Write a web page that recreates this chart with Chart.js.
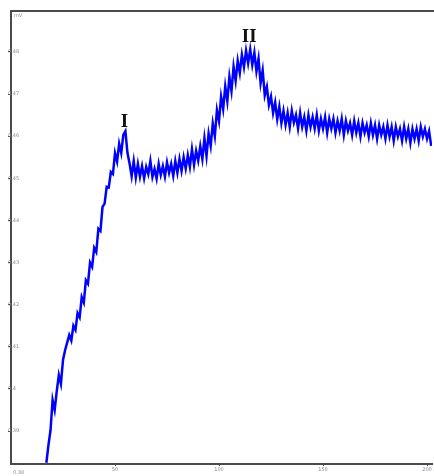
<!DOCTYPE html>
<html>
<head>
<meta charset="utf-8">
<script src="https://cdn.jsdelivr.net/npm/chart.js@4"></script>
<style>
  html, body { margin: 0; padding: 0; background: #fff; }
  #wrap { width: 434px; height: 476px; position: relative; }
</style>
</head>
<body>
<div id="wrap"><canvas id="cvChart"></canvas></div>
<script>
// x positions (arbitrary units) and potential in mV
var xValues = [];
for (var i = 17; i <= 202; i++) xValues.push(i);

var mvValues = [
    // 17 - 60 : steep rise to peak I
    0.3825, 0.3867, 0.3902, 0.3974, 0.3950, 0.3995, 0.4033, 0.4012, 0.4069, 0.4092,
    0.4110, 0.4128, 0.4115, 0.4150, 0.4140, 0.4180, 0.4170, 0.4218, 0.4205, 0.4258,
    0.4250, 0.4300, 0.4290, 0.4335, 0.4325, 0.4380, 0.4375, 0.4432, 0.4440, 0.4480,
    0.4478, 0.4515, 0.4510, 0.4560, 0.4540, 0.4582, 0.4560, 0.4603, 0.4612, 0.4560,
    0.4535, 0.4505, 0.4541, 0.4502,
    // 61 - 92 : plateau
    0.4534, 0.4504, 0.4529, 0.4500, 0.4527, 0.4510, 0.4541, 0.4503, 0.4522, 0.4499,
    0.4534, 0.4508, 0.4529, 0.4504, 0.4538, 0.4513, 0.4534, 0.4506, 0.4541, 0.4513,
    0.4546, 0.4518, 0.4550, 0.4523, 0.4555, 0.4527, 0.4569, 0.4532, 0.4565, 0.4542,
    0.4576, 0.4546,
    // 93 - 130 : rise to peak II and drop
    0.4595, 0.4553, 0.4606, 0.4577, 0.4630, 0.4600, 0.4662, 0.4636, 0.4694, 0.4664,
    0.4718, 0.4683, 0.4741, 0.4707, 0.4765, 0.4731, 0.4779, 0.4750, 0.4793, 0.4764,
    0.4803, 0.4773, 0.4806, 0.4769, 0.4798, 0.4754, 0.4784, 0.4726, 0.4756, 0.4697,
    0.4717, 0.4674, 0.4694, 0.4655, 0.4680, 0.4640, 0.4670, 0.4631,
    // 131 - 202 : slow decay
    0.4660, 0.4627, 0.4655, 0.4622, 0.4660, 0.4632, 0.4650, 0.4618, 0.4655, 0.4622,
    0.4645, 0.4613, 0.4650, 0.4622, 0.4645, 0.4618, 0.4650, 0.4613, 0.4641, 0.4618,
    0.4645, 0.4608, 0.4641, 0.4618, 0.4641, 0.4608, 0.4636, 0.4613, 0.4641, 0.4603,
    0.4636, 0.4613, 0.4631, 0.4603, 0.4636, 0.4608, 0.4631, 0.4599, 0.4631, 0.4608,
    0.4626, 0.4599, 0.4631, 0.4603, 0.4626, 0.4594, 0.4626, 0.4603, 0.4622, 0.4594,
    0.4626, 0.4599, 0.4622, 0.4589, 0.4622, 0.4599, 0.4617, 0.4589, 0.4622, 0.4594,
    0.4617, 0.4584, 0.4617, 0.4594, 0.4617, 0.4589, 0.4622, 0.4599, 0.4617, 0.4594,
    0.4612, 0.4577
];

var xTicks = [50, 100, 150, 200];
var yTicks = [0.39, 0.40, 0.41, 0.42, 0.43, 0.44, 0.45, 0.46, 0.47, 0.48];

// peak markers: label, x, mV
var peakLabels = ['I', 'II'];
var peakX = [54.5, 114.5];
var peakY = [0.4634, 0.4835];

var axisColor = '#4a4a4a';
var tickFont = { family: 'DejaVu Sans', size: 5 };

var points = xValues.map(function(x, i) { return { x: x, y: mvValues[i] }; });

// extra text: peak markers, unit, corner label, top frame line
var extrasPlugin = {
    id: 'extras',
    afterDraw: function(chart) {
        var ctx = chart.ctx;
        var xs = chart.scales.x, ys = chart.scales.y;
        var area = chart.chartArea;
        ctx.save();
        ctx.strokeStyle = axisColor;
        ctx.lineWidth = 2;
        ctx.beginPath();
        ctx.moveTo(area.left, area.top);
        ctx.lineTo(chart.width, area.top);
        ctx.stroke();

        ctx.fillStyle = '#111';
        ctx.font = 'bold 19px "Liberation Serif", "DejaVu Serif", serif';
        ctx.textAlign = 'center';
        ctx.textBaseline = 'middle';
        peakLabels.forEach(function(lbl, i) {
            ctx.fillText(lbl, xs.getPixelForValue(peakX[i]), ys.getPixelForValue(peakY[i]));
        });

        ctx.fillStyle = '#8a8aa0';
        ctx.font = '5px "DejaVu Sans"';
        ctx.textAlign = 'left';
        ctx.fillText('mV', area.left + 3, area.top + 5);
        ctx.fillText('0.38', 13, area.bottom + 9);
        ctx.restore();
    }
};

new Chart(document.getElementById('cvChart'), {
    type: 'line',
    data: {
        datasets: [{
            data: points,
            borderColor: '#0000ff',
            borderWidth: 2.5,
            pointRadius: 0,
            tension: 0,
            fill: false
        }]
    },
    options: {
        responsive: true,
        maintainAspectRatio: false,
        animation: false,
        layout: { padding: { top: 11, right: 2, left: 0, bottom: 0 } },
        plugins: {
            legend: { display: false },
            tooltip: { enabled: false }
        },
        scales: {
            x: {
                type: 'linear',
                min: 0,
                max: 202.4,
                afterBuildTicks: function(axis) {
                    axis.ticks = xTicks.map(function(v) { return { value: v }; });
                },
                afterFit: function(axis) { axis.height = 12; },
                border: { display: true, color: axisColor, width: 2 },
                grid: { display: true, drawOnChartArea: false, tickLength: 2, color: axisColor },
                ticks: { font: tickFont, color: '#8a8aa0', padding: 1, maxRotation: 0 }
            },
            y: {
                type: 'linear',
                min: 0.3822,
                max: 0.4897,
                afterBuildTicks: function(axis) {
                    axis.ticks = yTicks.map(function(v) { return { value: v }; });
                },
                afterFit: function(axis) { axis.width = 11; },
                border: { display: true, color: axisColor, width: 2 },
                grid: { display: true, drawOnChartArea: false, tickLength: 3, color: axisColor },
                ticks: {
                    mirror: true,
                    padding: -3,
                    font: tickFont,
                    color: '#8a8aa0',
                    callback: function(v) { return parseFloat(v.toFixed(2)).toString(); }
                }
            }
        }
    },
    plugins: [extrasPlugin]
});
</script>
</body>
</html>
